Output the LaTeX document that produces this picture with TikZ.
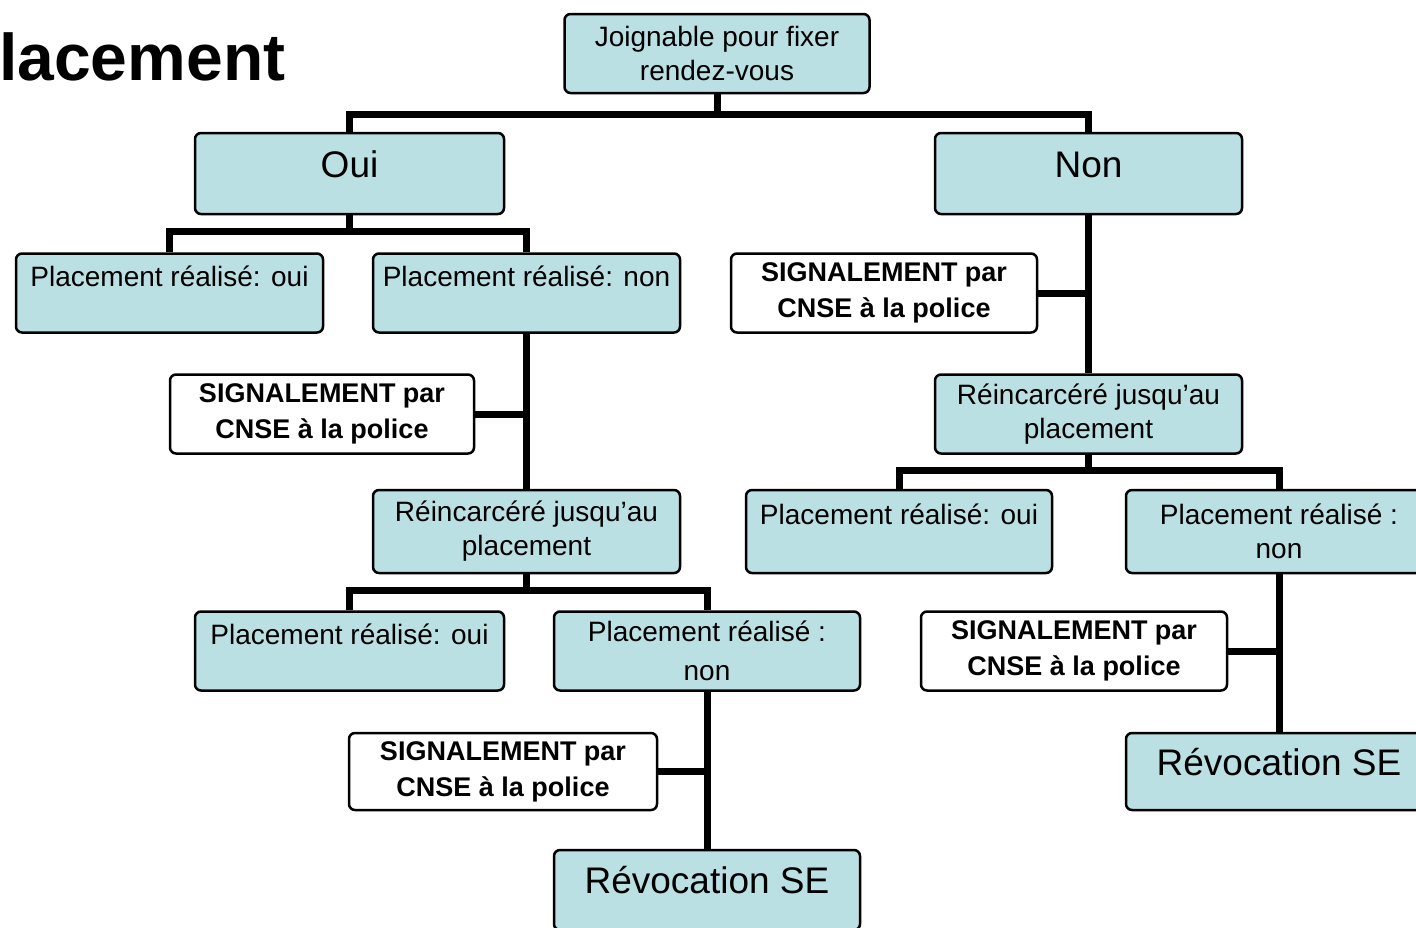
\documentclass[tikz,border=0pt]{standalone}
\usepackage{fontspec}
\setmainfont{Liberation Sans}
\usetikzlibrary{backgrounds}
\definecolor{boxfill}{RGB}{187,224,227}
\tikzset{
  box/.style={rectangle, rounded corners=6pt, draw=black, line width=2.5pt,
              fill=boxfill, align=center, minimum width=307pt, minimum height=79pt,
              inner sep=0pt, font=\fontsize{28}{34}\selectfont},
  sigbox/.style={box, fill=white, font=\fontsize{27}{36}\selectfont\bfseries},
  bigbox/.style={box, font=\fontsize{37}{44}\selectfont, text height=27pt, text depth=20pt},
  conn/.style={line width=7pt, draw=black},
}

\begin{document}
\begin{tikzpicture}[x=1pt, y=-1pt]
  \useasboundingbox (0,0) rectangle (1416,927);
  \node[font=\fontsize{66}{70}\selectfont\bfseries, anchor=base west, inner sep=0pt] (titre) at (-1,80) {lacement};
  \node[box, minimum width=305pt] (joign) at (717,53.5) {Joignable pour fixer\\rendez-vous};
  \node[bigbox, minimum width=309pt, minimum height=81pt] (oui) at (349.5,173.5) {Oui};
  \node[bigbox, minimum height=81pt] (non) at (1088.5,173.5) {Non};
  % branche oui
  \node[box] (ouiok) at (169.5,293) {Placement réalisé: oui\\\mbox{}};
  \node[box] (ouinon) at (526.5,293) {Placement réalisé: non\\\mbox{}};
  \node[sigbox, minimum width=304pt] (sigA) at (322,414) {SIGNALEMENT par\\CNSE à la police};
  \node[box, minimum height=83pt] (reincA) at (526.5,531.5) {Réincarcéré jusqu'au\\placement};
  \node[box, minimum width=309pt] (okA) at (349.5,651) {Placement réalisé: oui\\\mbox{}};
  \node[box, minimum width=306pt] (nonA) at (707,651) {Placement réalisé :\\[5pt]non};
  \node[sigbox, minimum width=308pt, minimum height=77pt] (sigB) at (503,771.5) {SIGNALEMENT par\\CNSE à la police};
  \node[bigbox, minimum width=306pt, minimum height=80pt] (revA) at (707,890) {Révocation SE};
  % branche non
  \node[sigbox, minimum width=306pt] (sigC) at (884,293) {SIGNALEMENT par\\CNSE à la police};
  \node[box] (reincB) at (1088.5,414) {Réincarcéré jusqu'au\\placement};
  \node[box, minimum width=306pt, minimum height=83pt] (okB) at (899,531.5) {Placement réalisé: oui\\\mbox{}};
  \node[box, minimum width=306pt, minimum height=83pt] (nonB) at (1279,531.5) {Placement réalisé :\\non};
  \node[sigbox, minimum width=306pt] (sigD) at (1074,651) {SIGNALEMENT par\\CNSE à la police};
  \node[bigbox, minimum width=306pt, minimum height=77pt] (revB) at (1279,771.5) {Révocation SE};
  \begin{scope}[on background layer]
    \draw[conn] (joign.south) -- ++(0,23);
    \draw[conn] (oui.north) -- ++(0,-17) -| (non.north);
    \draw[conn] (oui.south) -- ++(0,19);
    \draw[conn] (ouiok.north) -- ++(0,-21) -| (ouinon.north);
    \draw[conn] (ouinon.south) -- (reincA.north);
    \draw[conn] (sigA.east) -- (sigA.east -| ouinon.south);
    \draw[conn] (reincA.south) -- ++(0,19);
    \draw[conn] (okA.north) -- ++(0,-20) -| (nonA.north);
    \draw[conn] (nonA.south) -- (revA.north);
    \draw[conn] (sigB.east) -- (sigB.east -| nonA.south);
    \draw[conn] (non.south) -- (reincB.north);
    \draw[conn] (sigC.east) -- (sigC.east -| non.south);
    \draw[conn] (reincB.south) -- ++(0,19);
    \draw[conn] (okB.north) -- ++(0,-18) -| (nonB.north);
    \draw[conn] (nonB.south) -- (revB.north);
    \draw[conn] (sigD.east) -- (sigD.east -| nonB.south);
  \end{scope}
\end{tikzpicture}
\end{document}
